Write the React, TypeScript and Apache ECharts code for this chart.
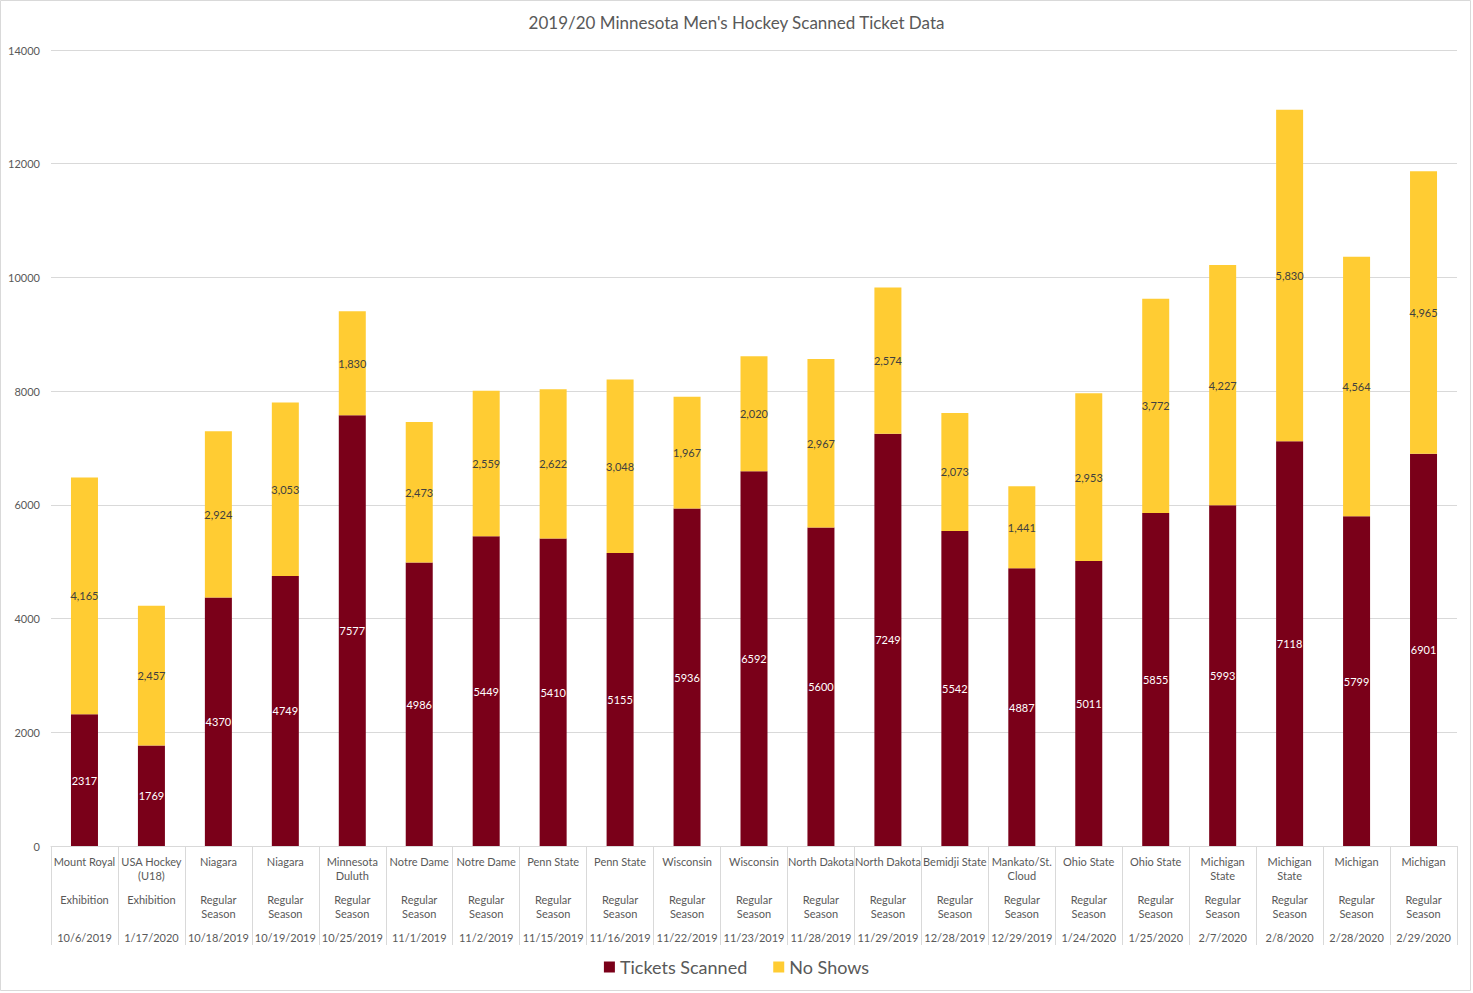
import React, { useEffect, useRef } from "react";
import * as echarts from "echarts";

const opponents = [
  "Mount Royal", "USA Hockey (U18)", "Niagara", "Niagara", "Minnesota Duluth",
  "Notre Dame", "Notre Dame", "Penn State", "Penn State", "Wisconsin", "Wisconsin",
  "North Dakota", "North Dakota", "Bemidji State", "Mankato/St. Cloud", "Ohio State",
  "Ohio State", "Michigan State", "Michigan State", "Michigan", "Michigan",
];
const gameTypes = [
  "Exhibition", "Exhibition", "Regular Season", "Regular Season", "Regular Season",
  "Regular Season", "Regular Season", "Regular Season", "Regular Season", "Regular Season",
  "Regular Season", "Regular Season", "Regular Season", "Regular Season", "Regular Season",
  "Regular Season", "Regular Season", "Regular Season", "Regular Season", "Regular Season",
  "Regular Season",
];
const dates = [
  "10/6/2019", "1/17/2020", "10/18/2019", "10/19/2019", "10/25/2019", "11/1/2019",
  "11/2/2019", "11/15/2019", "11/16/2019", "11/22/2019", "11/23/2019", "11/28/2019",
  "11/29/2019", "12/28/2019", "12/29/2019", "1/24/2020", "1/25/2020", "2/7/2020",
  "2/8/2020", "2/28/2020", "2/29/2020",
];
const ticketsScanned = [
  2317, 1769, 4370, 4749, 7577, 4986, 5449, 5410, 5155, 5936, 6592,
  5600, 7249, 5542, 4887, 5011, 5855, 5993, 7118, 5799, 6901,
];
const noShows = [
  4165, 2457, 2924, 3053, 1830, 2473, 2559, 2622, 3048, 1967, 2020,
  2967, 2574, 2073, 1441, 2953, 3772, 4227, 5830, 4564, 4965,
];
const yTicks = { min: 0, max: 14000, interval: 2000 };

const FONT = "Lato, 'Open Sans', sans-serif";
const GREY = "#595959";
const LINE = "#d9d9d9";

const wrap = (s: string) =>
  s
    .replace("USA Hockey (U18)", "USA Hockey\n(U18)")
    .replace("Minnesota Duluth", "Minnesota\nDuluth")
    .replace("Michigan State", "Michigan\nState")
    .replace("Mankato/St. Cloud", "Mankato/St.\nCloud")
    .replace("Regular Season", "Regular\nSeason");

export default function App() {
  const ref = useRef<HTMLDivElement>(null);
  useEffect(() => {
    if (!ref.current) return;
    const chart = echarts.init(ref.current, null, { renderer: "svg" });
    const labelCommon = {
      interval: 0,
      color: GREY,
      fontSize: 11,
      fontFamily: FONT,
      lineHeight: 14,
      verticalAlign: "top" as const,
      formatter: wrap,
    };
    chart.setOption({
      animation: false,
      backgroundColor: "#fff",
      title: {
        text: "2019/20 Minnesota Men's Hockey Scanned Ticket Data",
        left: "center",
        top: 9,
        textStyle: { color: GREY, fontSize: 17, fontWeight: "normal", fontFamily: FONT },
      },
      legend: {
        bottom: 12,
        left: "center",
        icon: "rect",
        itemWidth: 11,
        itemHeight: 11,
        itemGap: 26,
        textStyle: { color: GREY, fontSize: 18, fontFamily: FONT },
        data: ["Tickets Scanned", "No Shows"],
      },
      grid: { left: 51, right: 16, top: 50, bottom: 147 },
      xAxis: [
        {
          type: "category",
          position: "bottom",
          data: dates,
          offset: 75,
          axisLine: { show: false },
          axisTick: { show: false },
          axisLabel: { ...labelCommon, margin: 9 },
        },
        {
          type: "category",
          position: "bottom",
          data: opponents,
          axisLine: { show: true, lineStyle: { color: LINE } },
          axisTick: { show: true, length: 99, lineStyle: { color: LINE } },
          axisLabel: { ...labelCommon, margin: 8 },
        },
        {
          type: "category",
          position: "bottom",
          data: gameTypes,
          offset: 37,
          axisLine: { show: false },
          axisTick: { show: false },
          axisLabel: { ...labelCommon, margin: 9 },
        },
      ],
      yAxis: {
        type: "value",
        min: yTicks.min,
        max: yTicks.max,
        interval: yTicks.interval,
        axisLine: { show: false },
        axisTick: { show: false },
        splitLine: { lineStyle: { color: LINE } },
        axisLabel: {
          color: GREY,
          fontSize: 11,
          fontFamily: FONT,
          margin: 11,
          formatter: (v: number) => String(v),
        },
      },
      series: [
        {
          name: "Tickets Scanned",
          type: "bar",
          stack: "total",
          xAxisIndex: 0,
          barWidth: 27,
          data: ticketsScanned,
          itemStyle: { color: "#7a0019" },
          label: {
            show: true,
            position: "inside",
            color: "#ffffff",
            fontSize: 11,
            fontFamily: FONT,
          },
        },
        {
          name: "No Shows",
          type: "bar",
          stack: "total",
          xAxisIndex: 0,
          barWidth: 27,
          data: noShows,
          itemStyle: { color: "#ffcc33" },
          label: {
            show: true,
            position: "inside",
            color: "#404040",
            fontSize: 11,
            fontFamily: FONT,
            formatter: (p: any) => Number(p.value).toLocaleString("en-US"),
          },
        },
      ],
      graphic: [
        {
          type: "rect",
          shape: { x: 0.5, y: 0.5, width: 1470, height: 990 },
          style: { fill: "none", stroke: LINE, lineWidth: 1 },
          silent: true,
        },
      ],
    });
    return () => chart.dispose();
  }, []);
  return (
    <div
      ref={ref}
      style={{ position: "absolute", left: 0, top: 0, width: 1473, height: 993 }}
    />
  );
}
